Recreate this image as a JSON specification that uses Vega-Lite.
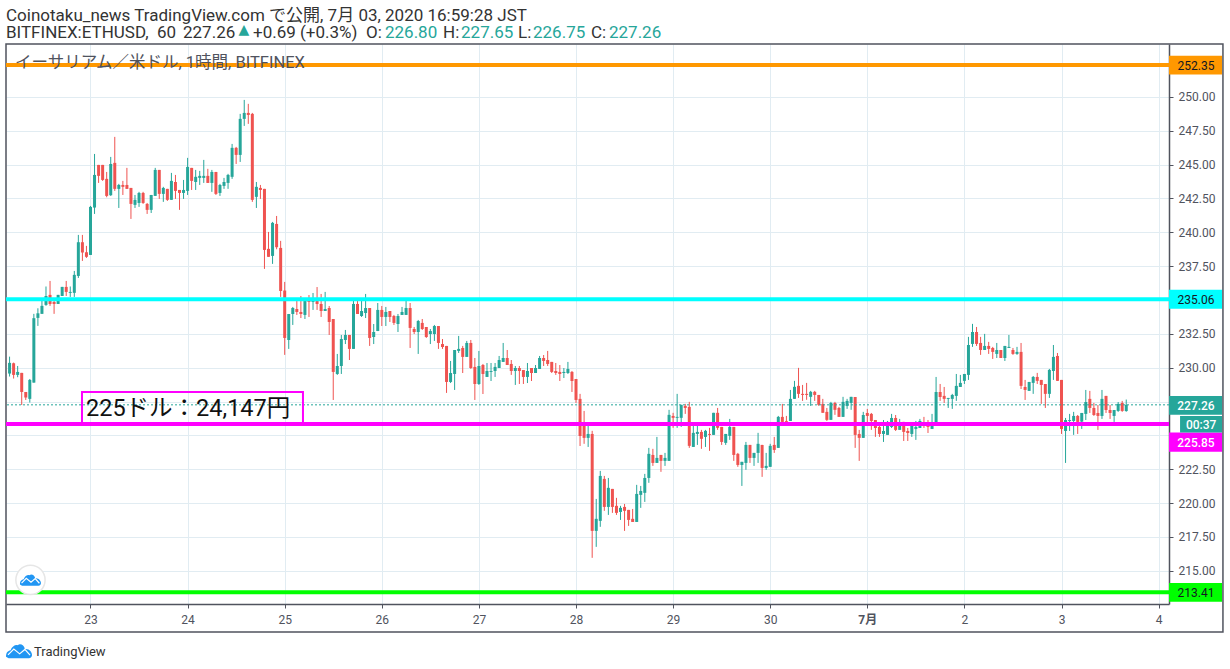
{
"$schema":"https://vega.github.io/schema/vega-lite/v6.json",
"width":1163,"height":560,
"autosize":"none",
"padding":{"left":6,"top":44,"right":61,"bottom":65},
"background":"white",
"config":{"view":{"stroke":null},"font":"Roboto, 'Noto Sans CJK JP'"},
"datasets":{
"candles":[
{"t":"2020-06-22T04:00Z","o":229.57,"h":230.82,"l":229.35,"c":230.36},
{"t":"2020-06-22T05:00Z","o":230.33,"h":230.38,"l":229.20,"c":229.47},
{"t":"2020-06-22T06:00Z","o":229.47,"h":230.13,"l":229.30,"c":229.69},
{"t":"2020-06-22T07:00Z","o":229.62,"h":229.62,"l":227.25,"c":228.21},
{"t":"2020-06-22T08:00Z","o":228.21,"h":228.21,"l":227.62,"c":227.80},
{"t":"2020-06-22T09:00Z","o":227.70,"h":229.17,"l":227.43,"c":229.10},
{"t":"2020-06-22T10:00Z","o":228.90,"h":233.98,"l":228.90,"c":233.66},
{"t":"2020-06-22T11:00Z","o":233.68,"h":234.39,"l":233.09,"c":234.02},
{"t":"2020-06-22T12:00Z","o":233.98,"h":235.13,"l":233.98,"c":234.57},
{"t":"2020-06-22T13:00Z","o":234.64,"h":236.00,"l":234.57,"c":235.30},
{"t":"2020-06-22T14:00Z","o":235.38,"h":236.41,"l":234.57,"c":234.71},
{"t":"2020-06-22T15:00Z","o":234.86,"h":235.13,"l":233.98,"c":234.71},
{"t":"2020-06-22T16:00Z","o":234.71,"h":235.38,"l":234.71,"c":235.38},
{"t":"2020-06-22T17:00Z","o":235.30,"h":235.97,"l":235.30,"c":235.97},
{"t":"2020-06-22T18:00Z","o":235.97,"h":236.41,"l":235.30,"c":235.60},
{"t":"2020-06-22T19:00Z","o":235.53,"h":236.00,"l":235.23,"c":235.60},
{"t":"2020-06-22T20:00Z","o":235.53,"h":237.15,"l":235.23,"c":236.86},
{"t":"2020-06-22T21:00Z","o":236.78,"h":239.81,"l":236.63,"c":239.27},
{"t":"2020-06-22T22:00Z","o":239.27,"h":239.81,"l":237.89,"c":238.51},
{"t":"2020-06-22T23:00Z","o":238.53,"h":239.00,"l":238.11,"c":238.19},
{"t":"2020-06-23T00:00Z","o":238.33,"h":241.95,"l":238.33,"c":241.88},
{"t":"2020-06-23T01:00Z","o":241.83,"h":245.79,"l":241.36,"c":244.24},
{"t":"2020-06-23T02:00Z","o":244.98,"h":244.98,"l":243.65,"c":244.17},
{"t":"2020-06-23T03:00Z","o":244.98,"h":244.98,"l":243.80,"c":243.87},
{"t":"2020-06-23T04:00Z","o":243.95,"h":244.46,"l":242.59,"c":242.69},
{"t":"2020-06-23T05:00Z","o":242.74,"h":245.57,"l":242.69,"c":245.05},
{"t":"2020-06-23T06:00Z","o":245.13,"h":247.05,"l":243.06,"c":243.21},
{"t":"2020-06-23T07:00Z","o":243.21,"h":243.58,"l":241.80,"c":243.50},
{"t":"2020-06-23T08:00Z","o":243.50,"h":243.80,"l":242.76,"c":243.36},
{"t":"2020-06-23T09:00Z","o":243.50,"h":244.76,"l":243.21,"c":243.21},
{"t":"2020-06-23T10:00Z","o":243.28,"h":243.28,"l":240.99,"c":242.10},
{"t":"2020-06-23T11:00Z","o":242.03,"h":242.76,"l":241.80,"c":242.40},
{"t":"2020-06-23T12:00Z","o":242.17,"h":242.99,"l":241.88,"c":242.91},
{"t":"2020-06-23T13:00Z","o":242.91,"h":242.99,"l":242.10,"c":242.17},
{"t":"2020-06-23T14:00Z","o":242.10,"h":242.17,"l":241.36,"c":241.66},
{"t":"2020-06-23T15:00Z","o":241.66,"h":242.76,"l":241.43,"c":242.76},
{"t":"2020-06-23T16:00Z","o":242.69,"h":244.76,"l":242.69,"c":244.61},
{"t":"2020-06-23T17:00Z","o":244.61,"h":244.61,"l":242.47,"c":242.84},
{"t":"2020-06-23T18:00Z","o":242.84,"h":243.36,"l":242.25,"c":243.28},
{"t":"2020-06-23T19:00Z","o":243.21,"h":243.21,"l":242.32,"c":242.40},
{"t":"2020-06-23T20:00Z","o":242.40,"h":244.39,"l":242.40,"c":243.80},
{"t":"2020-06-23T21:00Z","o":243.72,"h":244.24,"l":242.47,"c":243.06},
{"t":"2020-06-23T22:00Z","o":243.13,"h":243.13,"l":241.66,"c":242.91},
{"t":"2020-06-23T23:00Z","o":242.91,"h":243.87,"l":242.47,"c":243.13},
{"t":"2020-06-24T00:00Z","o":243.06,"h":245.50,"l":242.76,"c":244.83},
{"t":"2020-06-24T01:00Z","o":244.76,"h":244.76,"l":243.13,"c":243.80},
{"t":"2020-06-24T02:00Z","o":243.72,"h":244.61,"l":243.13,"c":244.10},
{"t":"2020-06-24T03:00Z","o":244.02,"h":244.54,"l":243.50,"c":244.17},
{"t":"2020-06-24T04:00Z","o":244.02,"h":245.35,"l":243.65,"c":244.17},
{"t":"2020-06-24T05:00Z","o":244.17,"h":244.69,"l":243.65,"c":243.65},
{"t":"2020-06-24T06:00Z","o":243.65,"h":244.61,"l":242.99,"c":244.46},
{"t":"2020-06-24T07:00Z","o":244.46,"h":244.46,"l":242.76,"c":242.84},
{"t":"2020-06-24T08:00Z","o":242.91,"h":243.58,"l":242.69,"c":243.50},
{"t":"2020-06-24T09:00Z","o":243.43,"h":244.02,"l":243.21,"c":243.72},
{"t":"2020-06-24T10:00Z","o":243.65,"h":244.32,"l":243.21,"c":244.24},
{"t":"2020-06-24T11:00Z","o":244.10,"h":246.53,"l":243.95,"c":246.24},
{"t":"2020-06-24T12:00Z","o":246.24,"h":246.31,"l":245.05,"c":245.72},
{"t":"2020-06-24T13:00Z","o":245.72,"h":248.75,"l":245.20,"c":248.38},
{"t":"2020-06-24T14:00Z","o":248.38,"h":249.78,"l":247.86,"c":248.82},
{"t":"2020-06-24T15:00Z","o":248.82,"h":249.49,"l":248.01,"c":248.67},
{"t":"2020-06-24T16:00Z","o":248.75,"h":248.82,"l":242.25,"c":242.40},
{"t":"2020-06-24T17:00Z","o":242.62,"h":243.72,"l":241.80,"c":243.36},
{"t":"2020-06-24T18:00Z","o":243.28,"h":243.50,"l":242.47,"c":243.13},
{"t":"2020-06-24T19:00Z","o":243.21,"h":243.21,"l":237.30,"c":238.70},
{"t":"2020-06-24T20:00Z","o":238.78,"h":240.03,"l":238.19,"c":238.19},
{"t":"2020-06-24T21:00Z","o":238.26,"h":240.77,"l":237.67,"c":240.70},
{"t":"2020-06-24T22:00Z","o":240.62,"h":241.21,"l":238.75,"c":238.90},
{"t":"2020-06-24T23:00Z","o":238.85,"h":239.37,"l":235.23,"c":235.67},
{"t":"2020-06-25T00:00Z","o":235.70,"h":236.34,"l":230.95,"c":232.20},
{"t":"2020-06-25T01:00Z","o":232.05,"h":233.97,"l":231.39,"c":233.97},
{"t":"2020-06-25T02:00Z","o":233.97,"h":234.49,"l":233.16,"c":234.41},
{"t":"2020-06-25T03:00Z","o":234.34,"h":235.08,"l":233.90,"c":234.12},
{"t":"2020-06-25T04:00Z","o":234.12,"h":235.30,"l":233.67,"c":233.97},
{"t":"2020-06-25T05:00Z","o":233.90,"h":235.00,"l":233.60,"c":234.93},
{"t":"2020-06-25T06:00Z","o":235.00,"h":235.37,"l":233.75,"c":234.86},
{"t":"2020-06-25T07:00Z","o":234.86,"h":235.52,"l":234.27,"c":235.00},
{"t":"2020-06-25T08:00Z","o":235.00,"h":235.96,"l":234.27,"c":234.71},
{"t":"2020-06-25T09:00Z","o":234.71,"h":235.45,"l":233.75,"c":234.19},
{"t":"2020-06-25T10:00Z","o":234.19,"h":235.60,"l":234.19,"c":234.34},
{"t":"2020-06-25T11:00Z","o":234.41,"h":234.56,"l":232.42,"c":233.38},
{"t":"2020-06-25T12:00Z","o":233.60,"h":233.60,"l":227.62,"c":229.69},
{"t":"2020-06-25T13:00Z","o":229.54,"h":231.02,"l":229.47,"c":230.13},
{"t":"2020-06-25T14:00Z","o":230.13,"h":232.42,"l":229.54,"c":232.12},
{"t":"2020-06-25T15:00Z","o":232.05,"h":232.79,"l":231.75,"c":232.42},
{"t":"2020-06-25T16:00Z","o":232.42,"h":232.42,"l":230.57,"c":231.39},
{"t":"2020-06-25T17:00Z","o":231.39,"h":235.15,"l":231.39,"c":234.71},
{"t":"2020-06-25T18:00Z","o":234.71,"h":235.00,"l":233.97,"c":233.97},
{"t":"2020-06-25T19:00Z","o":233.82,"h":235.00,"l":233.75,"c":234.19},
{"t":"2020-06-25T20:00Z","o":234.04,"h":235.45,"l":233.67,"c":234.41},
{"t":"2020-06-25T21:00Z","o":234.41,"h":234.41,"l":231.61,"c":232.20},
{"t":"2020-06-25T22:00Z","o":232.27,"h":233.23,"l":231.75,"c":232.64},
{"t":"2020-06-25T23:00Z","o":232.71,"h":234.78,"l":232.71,"c":234.27},
{"t":"2020-06-26T00:00Z","o":234.27,"h":234.56,"l":233.08,"c":233.75},
{"t":"2020-06-26T01:00Z","o":233.75,"h":234.49,"l":233.08,"c":234.12},
{"t":"2020-06-26T02:00Z","o":234.19,"h":234.19,"l":233.38,"c":233.75},
{"t":"2020-06-26T03:00Z","o":233.82,"h":233.90,"l":233.16,"c":233.31},
{"t":"2020-06-26T04:00Z","o":233.23,"h":233.97,"l":232.64,"c":233.82},
{"t":"2020-06-26T05:00Z","o":233.90,"h":234.49,"l":233.90,"c":234.12},
{"t":"2020-06-26T06:00Z","o":233.90,"h":235.08,"l":233.90,"c":234.41},
{"t":"2020-06-26T07:00Z","o":234.41,"h":234.78,"l":231.46,"c":232.94},
{"t":"2020-06-26T08:00Z","o":232.86,"h":233.01,"l":232.49,"c":232.64},
{"t":"2020-06-26T09:00Z","o":232.64,"h":233.53,"l":231.02,"c":233.45},
{"t":"2020-06-26T10:00Z","o":233.31,"h":233.60,"l":232.79,"c":232.86},
{"t":"2020-06-26T11:00Z","o":233.01,"h":233.01,"l":232.20,"c":232.27},
{"t":"2020-06-26T12:00Z","o":232.49,"h":232.86,"l":231.75,"c":232.71},
{"t":"2020-06-26T13:00Z","o":232.49,"h":233.16,"l":231.98,"c":233.08},
{"t":"2020-06-26T14:00Z","o":233.08,"h":233.08,"l":231.39,"c":231.83},
{"t":"2020-06-26T15:00Z","o":231.75,"h":232.12,"l":231.39,"c":231.53},
{"t":"2020-06-26T16:00Z","o":231.61,"h":231.61,"l":228.14,"c":228.95},
{"t":"2020-06-26T17:00Z","o":228.95,"h":230.50,"l":228.87,"c":229.61},
{"t":"2020-06-26T18:00Z","o":229.54,"h":231.31,"l":228.36,"c":231.31},
{"t":"2020-06-26T19:00Z","o":231.24,"h":232.35,"l":231.09,"c":231.39},
{"t":"2020-06-26T20:00Z","o":231.46,"h":231.61,"l":229.61,"c":230.80},
{"t":"2020-06-26T21:00Z","o":230.80,"h":231.98,"l":230.80,"c":231.83},
{"t":"2020-06-26T22:00Z","o":231.83,"h":232.05,"l":229.91,"c":229.98},
{"t":"2020-06-26T23:00Z","o":230.06,"h":230.72,"l":227.62,"c":228.80},
{"t":"2020-06-27T00:00Z","o":228.80,"h":231.24,"l":228.73,"c":230.13},
{"t":"2020-06-27T01:00Z","o":230.20,"h":230.28,"l":228.06,"c":229.54},
{"t":"2020-06-27T02:00Z","o":229.32,"h":230.35,"l":229.32,"c":229.76},
{"t":"2020-06-27T03:00Z","o":229.69,"h":230.35,"l":229.02,"c":229.76},
{"t":"2020-06-27T04:00Z","o":229.76,"h":230.35,"l":229.32,"c":230.06},
{"t":"2020-06-27T05:00Z","o":229.98,"h":230.87,"l":229.98,"c":230.57},
{"t":"2020-06-27T06:00Z","o":230.43,"h":231.83,"l":230.43,"c":230.72},
{"t":"2020-06-27T07:00Z","o":230.72,"h":231.31,"l":230.20,"c":230.20},
{"t":"2020-06-27T08:00Z","o":230.28,"h":230.57,"l":229.47,"c":229.76},
{"t":"2020-06-27T09:00Z","o":229.76,"h":230.13,"l":228.73,"c":229.98},
{"t":"2020-06-27T10:00Z","o":229.98,"h":230.13,"l":228.80,"c":229.76},
{"t":"2020-06-27T11:00Z","o":229.83,"h":229.83,"l":228.80,"c":229.32},
{"t":"2020-06-27T12:00Z","o":229.32,"h":230.35,"l":228.87,"c":229.76},
{"t":"2020-06-27T13:00Z","o":229.98,"h":229.98,"l":229.02,"c":229.61},
{"t":"2020-06-27T14:00Z","o":229.61,"h":230.20,"l":229.61,"c":229.98},
{"t":"2020-06-27T15:00Z","o":229.91,"h":230.87,"l":229.91,"c":230.72},
{"t":"2020-06-27T16:00Z","o":230.72,"h":230.94,"l":230.13,"c":230.50},
{"t":"2020-06-27T17:00Z","o":230.57,"h":231.24,"l":230.13,"c":230.28},
{"t":"2020-06-27T18:00Z","o":230.43,"h":230.43,"l":229.61,"c":229.69},
{"t":"2020-06-27T19:00Z","o":229.76,"h":230.35,"l":229.47,"c":229.61},
{"t":"2020-06-27T20:00Z","o":229.69,"h":230.20,"l":229.02,"c":229.54},
{"t":"2020-06-27T21:00Z","o":229.61,"h":229.98,"l":229.24,"c":229.69},
{"t":"2020-06-27T22:00Z","o":229.61,"h":230.43,"l":229.54,"c":229.91},
{"t":"2020-06-27T23:00Z","o":229.69,"h":229.76,"l":228.21,"c":229.02},
{"t":"2020-06-28T00:00Z","o":229.17,"h":229.17,"l":227.40,"c":227.62},
{"t":"2020-06-28T01:00Z","o":227.70,"h":228.07,"l":224.22,"c":224.96},
{"t":"2020-06-28T02:00Z","o":225.80,"h":226.81,"l":224.38,"c":224.82},
{"t":"2020-06-28T03:00Z","o":224.82,"h":225.78,"l":224.15,"c":225.11},
{"t":"2020-06-28T04:00Z","o":225.11,"h":225.34,"l":215.96,"c":217.95},
{"t":"2020-06-28T05:00Z","o":217.95,"h":220.31,"l":216.77,"c":218.84},
{"t":"2020-06-28T06:00Z","o":218.69,"h":222.38,"l":218.25,"c":222.01},
{"t":"2020-06-28T07:00Z","o":221.79,"h":222.01,"l":219.43,"c":219.72},
{"t":"2020-06-28T08:00Z","o":219.72,"h":221.86,"l":219.13,"c":221.13},
{"t":"2020-06-28T09:00Z","o":221.05,"h":221.05,"l":219.28,"c":219.72},
{"t":"2020-06-28T10:00Z","o":219.80,"h":220.39,"l":219.13,"c":219.28},
{"t":"2020-06-28T11:00Z","o":219.35,"h":219.80,"l":218.76,"c":219.65},
{"t":"2020-06-28T12:00Z","o":219.72,"h":219.94,"l":217.95,"c":219.43},
{"t":"2020-06-28T13:00Z","o":219.50,"h":219.50,"l":218.32,"c":218.76},
{"t":"2020-06-28T14:00Z","o":218.84,"h":219.57,"l":218.61,"c":218.61},
{"t":"2020-06-28T15:00Z","o":218.61,"h":221.35,"l":218.61,"c":220.68},
{"t":"2020-06-28T16:00Z","o":220.61,"h":221.27,"l":219.65,"c":220.90},
{"t":"2020-06-28T17:00Z","o":220.76,"h":222.16,"l":220.09,"c":221.86},
{"t":"2020-06-28T18:00Z","o":221.86,"h":224.08,"l":221.50,"c":223.64},
{"t":"2020-06-28T19:00Z","o":223.56,"h":224.01,"l":222.75,"c":222.97},
{"t":"2020-06-28T20:00Z","o":222.97,"h":224.89,"l":222.97,"c":223.34},
{"t":"2020-06-28T21:00Z","o":223.56,"h":223.56,"l":222.31,"c":223.12},
{"t":"2020-06-28T22:00Z","o":223.12,"h":223.71,"l":222.75,"c":223.34},
{"t":"2020-06-28T23:00Z","o":223.12,"h":226.89,"l":223.12,"c":226.52},
{"t":"2020-06-29T00:00Z","o":226.44,"h":226.67,"l":225.56,"c":226.30},
{"t":"2020-06-29T01:00Z","o":226.30,"h":228.07,"l":225.56,"c":226.37},
{"t":"2020-06-29T02:00Z","o":226.30,"h":227.26,"l":225.63,"c":227.26},
{"t":"2020-06-29T03:00Z","o":227.18,"h":227.33,"l":226.59,"c":227.03},
{"t":"2020-06-29T04:00Z","o":227.11,"h":227.48,"l":224.08,"c":224.23},
{"t":"2020-06-29T05:00Z","o":224.15,"h":225.78,"l":224.15,"c":225.19},
{"t":"2020-06-29T06:00Z","o":225.11,"h":225.78,"l":224.30,"c":225.26},
{"t":"2020-06-29T07:00Z","o":225.26,"h":225.41,"l":224.01,"c":224.75},
{"t":"2020-06-29T08:00Z","o":224.89,"h":225.41,"l":224.15,"c":225.34},
{"t":"2020-06-29T09:00Z","o":225.11,"h":225.56,"l":223.86,"c":225.04},
{"t":"2020-06-29T10:00Z","o":225.04,"h":226.67,"l":225.04,"c":226.67},
{"t":"2020-06-29T11:00Z","o":226.67,"h":227.03,"l":225.41,"c":225.56},
{"t":"2020-06-29T12:00Z","o":225.63,"h":225.63,"l":224.30,"c":224.52},
{"t":"2020-06-29T13:00Z","o":224.45,"h":225.11,"l":224.30,"c":225.11},
{"t":"2020-06-29T14:00Z","o":224.97,"h":226.22,"l":224.67,"c":225.63},
{"t":"2020-06-29T15:00Z","o":225.63,"h":225.63,"l":223.12,"c":223.56},
{"t":"2020-06-29T16:00Z","o":223.64,"h":223.71,"l":222.68,"c":222.82},
{"t":"2020-06-29T17:00Z","o":222.82,"h":223.05,"l":221.27,"c":223.05},
{"t":"2020-06-29T18:00Z","o":222.97,"h":224.52,"l":222.46,"c":224.30},
{"t":"2020-06-29T19:00Z","o":224.30,"h":224.30,"l":222.97,"c":223.34},
{"t":"2020-06-29T20:00Z","o":223.34,"h":223.71,"l":222.75,"c":223.71},
{"t":"2020-06-29T21:00Z","o":223.71,"h":225.19,"l":222.97,"c":224.38},
{"t":"2020-06-29T22:00Z","o":224.30,"h":224.30,"l":221.94,"c":222.60},
{"t":"2020-06-29T23:00Z","o":222.60,"h":223.71,"l":222.46,"c":222.75},
{"t":"2020-06-30T00:00Z","o":222.68,"h":224.38,"l":222.68,"c":224.23},
{"t":"2020-06-30T01:00Z","o":224.30,"h":224.89,"l":223.71,"c":223.93},
{"t":"2020-06-30T02:00Z","o":224.08,"h":226.44,"l":224.08,"c":226.37},
{"t":"2020-06-30T03:00Z","o":226.37,"h":227.33,"l":226.00,"c":226.00},
{"t":"2020-06-30T04:00Z","o":226.07,"h":226.44,"l":226.00,"c":226.00},
{"t":"2020-06-30T05:00Z","o":226.07,"h":228.36,"l":226.07,"c":227.70},
{"t":"2020-06-30T06:00Z","o":227.70,"h":229.03,"l":227.70,"c":228.59},
{"t":"2020-06-30T07:00Z","o":228.66,"h":229.99,"l":227.77,"c":228.07},
{"t":"2020-06-30T08:00Z","o":228.07,"h":228.73,"l":227.55,"c":227.99},
{"t":"2020-06-30T09:00Z","o":228.07,"h":228.88,"l":227.63,"c":227.99},
{"t":"2020-06-30T10:00Z","o":227.85,"h":228.29,"l":227.18,"c":228.22},
{"t":"2020-06-30T11:00Z","o":228.22,"h":228.29,"l":227.55,"c":227.99},
{"t":"2020-06-30T12:00Z","o":227.99,"h":227.99,"l":227.18,"c":227.26},
{"t":"2020-06-30T13:00Z","o":227.33,"h":227.70,"l":226.67,"c":226.67},
{"t":"2020-06-30T14:00Z","o":226.74,"h":227.03,"l":226.07,"c":226.15},
{"t":"2020-06-30T15:00Z","o":226.15,"h":227.48,"l":226.15,"c":227.40},
{"t":"2020-06-30T16:00Z","o":227.40,"h":227.48,"l":226.52,"c":226.89},
{"t":"2020-06-30T17:00Z","o":227.03,"h":227.11,"l":226.37,"c":226.37},
{"t":"2020-06-30T18:00Z","o":226.37,"h":227.85,"l":226.37,"c":227.48},
{"t":"2020-06-30T19:00Z","o":227.18,"h":227.70,"l":226.96,"c":227.55},
{"t":"2020-06-30T20:00Z","o":227.40,"h":227.85,"l":226.89,"c":227.85},
{"t":"2020-06-30T21:00Z","o":227.84,"h":227.84,"l":224.08,"c":225.04},
{"t":"2020-06-30T22:00Z","o":225.11,"h":225.41,"l":223.12,"c":224.82},
{"t":"2020-06-30T23:00Z","o":224.82,"h":226.74,"l":224.82,"c":226.51},
{"t":"2020-07-01T00:00Z","o":226.66,"h":226.96,"l":225.92,"c":226.44},
{"t":"2020-07-01T01:00Z","o":226.59,"h":226.66,"l":225.41,"c":226.07},
{"t":"2020-07-01T02:00Z","o":226.14,"h":226.14,"l":224.89,"c":225.55},
{"t":"2020-07-01T03:00Z","o":225.63,"h":225.70,"l":224.89,"c":225.11},
{"t":"2020-07-01T04:00Z","o":225.11,"h":226.14,"l":224.52,"c":225.33},
{"t":"2020-07-01T05:00Z","o":225.04,"h":226.07,"l":225.04,"c":226.00},
{"t":"2020-07-01T06:00Z","o":225.63,"h":226.59,"l":225.55,"c":226.29},
{"t":"2020-07-01T07:00Z","o":226.29,"h":226.51,"l":225.33,"c":225.41},
{"t":"2020-07-01T08:00Z","o":225.41,"h":226.22,"l":225.41,"c":225.70},
{"t":"2020-07-01T09:00Z","o":226.00,"h":226.00,"l":224.59,"c":225.26},
{"t":"2020-07-01T10:00Z","o":225.33,"h":225.55,"l":224.59,"c":225.18},
{"t":"2020-07-01T11:00Z","o":225.11,"h":225.85,"l":224.89,"c":225.70},
{"t":"2020-07-01T12:00Z","o":225.48,"h":226.07,"l":224.67,"c":225.63},
{"t":"2020-07-01T13:00Z","o":225.55,"h":226.22,"l":225.55,"c":226.07},
{"t":"2020-07-01T14:00Z","o":225.85,"h":226.37,"l":225.55,"c":225.70},
{"t":"2020-07-01T15:00Z","o":225.78,"h":226.14,"l":225.18,"c":225.63},
{"t":"2020-07-01T16:00Z","o":225.48,"h":226.59,"l":225.48,"c":225.70},
{"t":"2020-07-01T17:00Z","o":225.70,"h":229.32,"l":225.70,"c":228.21},
{"t":"2020-07-01T18:00Z","o":228.21,"h":228.80,"l":227.55,"c":227.84},
{"t":"2020-07-01T19:00Z","o":227.92,"h":228.58,"l":227.40,"c":227.70},
{"t":"2020-07-01T20:00Z","o":227.70,"h":227.77,"l":227.03,"c":227.77},
{"t":"2020-07-01T21:00Z","o":227.70,"h":228.07,"l":226.96,"c":227.99},
{"t":"2020-07-01T22:00Z","o":227.92,"h":229.54,"l":227.55,"c":228.66},
{"t":"2020-07-01T23:00Z","o":228.58,"h":229.47,"l":228.58,"c":228.88},
{"t":"2020-07-02T00:00Z","o":229.03,"h":229.54,"l":228.80,"c":229.54},
{"t":"2020-07-02T01:00Z","o":229.47,"h":232.28,"l":229.10,"c":231.68},
{"t":"2020-07-02T02:00Z","o":231.76,"h":233.24,"l":231.54,"c":232.64},
{"t":"2020-07-02T03:00Z","o":232.64,"h":233.01,"l":231.61,"c":231.76},
{"t":"2020-07-02T04:00Z","o":231.83,"h":232.28,"l":230.95,"c":231.31},
{"t":"2020-07-02T05:00Z","o":231.31,"h":232.50,"l":231.31,"c":231.61},
{"t":"2020-07-02T06:00Z","o":231.61,"h":231.91,"l":231.02,"c":231.39},
{"t":"2020-07-02T07:00Z","o":231.46,"h":231.54,"l":230.65,"c":231.17},
{"t":"2020-07-02T08:00Z","o":231.02,"h":231.83,"l":230.72,"c":231.31},
{"t":"2020-07-02T09:00Z","o":231.31,"h":231.31,"l":230.72,"c":230.72},
{"t":"2020-07-02T10:00Z","o":230.72,"h":231.61,"l":230.50,"c":231.61},
{"t":"2020-07-02T11:00Z","o":231.46,"h":232.42,"l":231.46,"c":231.54},
{"t":"2020-07-02T12:00Z","o":231.31,"h":231.46,"l":230.95,"c":231.02},
{"t":"2020-07-02T13:00Z","o":231.02,"h":231.54,"l":230.95,"c":231.17},
{"t":"2020-07-02T14:00Z","o":231.17,"h":231.83,"l":228.43,"c":228.66},
{"t":"2020-07-02T15:00Z","o":228.58,"h":229.10,"l":227.62,"c":228.36},
{"t":"2020-07-02T16:00Z","o":228.29,"h":228.95,"l":228.29,"c":228.95},
{"t":"2020-07-02T17:00Z","o":228.88,"h":229.39,"l":228.07,"c":229.32},
{"t":"2020-07-02T18:00Z","o":229.32,"h":229.62,"l":228.80,"c":229.03},
{"t":"2020-07-02T19:00Z","o":229.10,"h":229.10,"l":227.33,"c":228.73},
{"t":"2020-07-02T20:00Z","o":228.80,"h":228.80,"l":227.03,"c":228.07},
{"t":"2020-07-02T21:00Z","o":228.07,"h":229.91,"l":227.77,"c":229.84},
{"t":"2020-07-02T22:00Z","o":229.76,"h":231.68,"l":229.10,"c":230.80},
{"t":"2020-07-02T23:00Z","o":230.87,"h":231.09,"l":229.03,"c":229.03},
{"t":"2020-07-03T00:00Z","o":229.10,"h":229.10,"l":225.11,"c":225.48},
{"t":"2020-07-03T01:00Z","o":225.33,"h":226.29,"l":222.97,"c":226.14},
{"t":"2020-07-03T02:00Z","o":226.07,"h":226.59,"l":225.33,"c":226.14},
{"t":"2020-07-03T03:00Z","o":226.07,"h":226.74,"l":225.04,"c":226.44},
{"t":"2020-07-03T04:00Z","o":226.44,"h":226.51,"l":225.11,"c":226.00},
{"t":"2020-07-03T05:00Z","o":226.02,"h":226.66,"l":225.48,"c":226.66},
{"t":"2020-07-03T06:00Z","o":226.59,"h":228.36,"l":226.14,"c":227.47},
{"t":"2020-07-03T07:00Z","o":227.70,"h":228.29,"l":226.66,"c":227.03},
{"t":"2020-07-03T08:00Z","o":227.03,"h":227.40,"l":226.44,"c":226.51},
{"t":"2020-07-03T09:00Z","o":226.66,"h":227.25,"l":225.41,"c":226.44},
{"t":"2020-07-03T10:00Z","o":226.44,"h":228.36,"l":226.22,"c":227.70},
{"t":"2020-07-03T11:00Z","o":227.92,"h":227.92,"l":226.66,"c":226.88},
{"t":"2020-07-03T12:00Z","o":226.88,"h":227.25,"l":226.22,"c":226.66},
{"t":"2020-07-03T13:00Z","o":226.44,"h":226.88,"l":226.00,"c":226.88},
{"t":"2020-07-03T14:00Z","o":226.81,"h":227.47,"l":226.74,"c":227.33},
{"t":"2020-07-03T15:00Z","o":227.40,"h":227.55,"l":226.74,"c":226.81},
{"t":"2020-07-03T16:00Z","o":226.80,"h":227.65,"l":226.75,"c":227.26}
],
"levels":[
{"p":252.35,"level":"orange","lo":251.65,"hi":253.05,"t1":"2020-07-04T02:34Z","t2":"2020-07-04T15:40Z"},
{"p":235.06,"level":"cyan","lo":234.36,"hi":235.76,"t1":"2020-07-04T02:34Z","t2":"2020-07-04T15:40Z"},
{"p":225.85,"level":"magenta","lo":223.80,"hi":225.21,"t1":"2020-07-04T02:34Z","t2":"2020-07-04T15:40Z"},
{"p":213.41,"level":"green","lo":212.71,"hi":214.11,"t1":"2020-07-04T02:34Z","t2":"2020-07-04T15:40Z"}
]
},
"layer":[
{"data":{"name":"candles"},
 "mark":{"type":"rule","strokeWidth":1},
 "encoding":{
  "x":{"field":"t","type":"temporal","title":null,
   "scale":{"type":"utc","padding":0,"domain":["2020-06-22T03:07:00Z","2020-07-04T02:34:00Z"]},
   "axis":{"tickCount":{"interval":"day","step":1},"labelExpr":"utcdate(datum.value)==1 ? '7月' : utcdate(datum.value)",
    "labelFontWeight":{"condition":{"test":"utcdate(datum.value)==1","value":"bold"},"value":"normal"},
    "labelColor":"#50535e","labelFontSize":12,"labelFont":"Roboto, 'Noto Sans CJK JP'","labelPadding":6,"tickColor":"#50535e","tickSize":4,"domainColor":"#50535e","domainWidth":1.5,"gridColor":"#e1ecf2","gridWidth":1,"grid":true,"labelFlush":false}},
  "y":{"field":"l","type":"quantitative","title":null,
   "scale":{"domain":[212.55,253.91],"zero":false,"nice":false},
   "axis":{"orient":"right","tickCount":40,"values":[215,217.5,220,222.5,225,227.5,230,232.5,235,237.5,240,242.5,245,247.5,250],"labelExpr":"indexof([225,227.5,235],datum.value)>=0 ? '' : format(datum.value,'.2f')","labelOverlap":false,"labelColor":"#50535e","labelFontSize":12,"labelPadding":5,"tickColor":"#50535e","tickSize":4,"domainColor":"#50535e","domainWidth":1.5,"gridColor":"#e1ecf2","gridWidth":1,"grid":true}},
  "y2":{"field":"h"},
  "color":{"condition":{"test":"datum.c>=datum.o","value":"#26a69a"},"value":"#ef5350"}}},
{"data":{"name":"candles"},
 "mark":{"type":"bar","size":3},
 "encoding":{
  "x":{"field":"t","type":"temporal"},
  "y":{"field":"o","type":"quantitative"},
  "y2":{"field":"c"},
  "color":{"condition":{"test":"datum.c>=datum.o","value":"#26a69a"},"value":"#ef5350"}}},
{"data":{"values":[{"t1":"2020-06-22T03:07Z","t2":"2020-07-04T15:54Z","p1":253.91,"p2":210.49}]},
 "mark":{"type":"rect","filled":false,"stroke":"#50535e","strokeWidth":1.5,"clip":false},
 "encoding":{"x":{"field":"t1","type":"temporal"},"x2":{"field":"t2"},"y":{"field":"p1","type":"quantitative"},"y2":{"field":"p2"}}},
{"data":{"values":[{"p":227.26}]},
 "mark":{"type":"rule","stroke":"#26a69a","strokeWidth":1,"strokeDash":[2,2]},
 "encoding":{"y":{"field":"p","type":"quantitative"}}},
{"data":{"name":"levels"},
 "mark":{"type":"rule","strokeWidth":4},
 "encoding":{"y":{"field":"p","type":"quantitative"},
  "color":{"field":"level","type":"nominal","legend":null,"scale":{"domain":["orange","cyan","magenta","green"],"range":["#ff9800","#00ffff","#ff00ff","#00ff00"]}}}},
{"data":{"name":"levels"},
 "mark":{"type":"rect","clip":false},
 "encoding":{"x":{"field":"t1","type":"temporal"},"x2":{"field":"t2"},"y":{"field":"lo","type":"quantitative"},"y2":{"field":"hi"},
  "color":{"field":"level","type":"nominal","legend":null}}},
{"data":{"values":[
  {"t1":"2020-07-04T02:34Z","t2":"2020-07-04T15:40Z","lo":226.52,"hi":227.92},
  {"t1":"2020-07-04T05:18Z","t2":"2020-07-04T15:40Z","lo":225.21,"hi":226.44}]},
 "mark":{"type":"rect","fill":"#26a69a","clip":false},
 "encoding":{"x":{"field":"t1","type":"temporal"},"x2":{"field":"t2"},"y":{"field":"lo","type":"quantitative"},"y2":{"field":"hi"}}},
{"data":{"values":[
  {"t":"2020-07-04T09:14Z","p":251.98,"lab":"252.35"},
  {"t":"2020-07-04T09:14Z","p":234.69,"lab":"235.06"},
  {"t":"2020-07-04T09:14Z","p":213.04,"lab":"213.41"}]},
 "mark":{"type":"text","color":"#131722","fontSize":12,"align":"center","baseline":"alphabetic","clip":false},
 "encoding":{"x":{"field":"t","type":"temporal"},"y":{"field":"p","type":"quantitative"},"text":{"field":"lab"}}},
{"data":{"values":[
  {"t":"2020-07-04T09:14Z","p":226.85,"lab":"227.26"},
  {"t":"2020-07-04T10:30Z","p":225.5,"lab":"00:37"},
  {"t":"2020-07-04T09:14Z","p":224.12,"lab":"225.85"}]},
 "mark":{"type":"text","color":"white","fontSize":12,"fontWeight":500,"align":"center","baseline":"alphabetic","clip":false},
 "encoding":{"x":{"field":"t","type":"temporal"},"y":{"field":"p","type":"quantitative"},"text":{"field":"lab"}}},
{"data":{"values":[{"t":"2020-06-22T05:20Z","p":252.14,"lab":"イーサリアム／米ドル, 1時間, BITFINEX"}]},
 "mark":{"type":"text","color":"#50535e","fontSize":16.5,"align":"left","baseline":"alphabetic"},
 "encoding":{"x":{"field":"t","type":"temporal"},"y":{"field":"p","type":"quantitative"},"text":{"field":"lab"}}},
{"data":{"values":[{"t1":"2020-06-22T21:54Z","t2":"2020-06-25T04:31Z","p1":228.21,"p2":225.85}]},
 "mark":{"type":"rect","filled":false,"stroke":"#ff00ff","strokeWidth":2},
 "encoding":{"x":{"field":"t1","type":"temporal"},"x2":{"field":"t2"},"y":{"field":"p1","type":"quantitative"},"y2":{"field":"p2"}}},
{"data":{"values":[{"t":"2020-06-22T22:53Z","p":226.44,"lab":"225ドル：24,147円"}]},
 "mark":{"type":"text","color":"#111111","fontSize":23.5,"align":"left","baseline":"alphabetic"},
 "encoding":{"x":{"field":"t","type":"temporal"},"y":{"field":"p","type":"quantitative"},"text":{"field":"lab"}}},
{"data":{"values":[{"t":"2020-06-22T03:07Z","p":255.61,"lab":"Coinotaku_news TradingView.com で公開, 7月 03, 2020 16:59:28 JST"},
  {"t":"2020-06-22T03:07Z","p":254.36,"lab":"BITFINEX:ETHUSD,"},
  {"t":"2020-06-23T16:26Z","p":254.36,"lab":"60"},
  {"t":"2020-06-23T22:52Z","p":254.36,"lab":"227.26"},
  {"t":"2020-06-24T16:10Z","p":254.36,"lab":"+0.69 (+0.3%)"},
  {"t":"2020-06-25T20:05Z","p":254.36,"lab":"O:"},
  {"t":"2020-06-26T15:08Z","p":254.36,"lab":"H:"},
  {"t":"2020-06-27T09:40Z","p":254.36,"lab":"L:"},
  {"t":"2020-06-28T03:42Z","p":254.36,"lab":"C:"}]},
 "mark":{"type":"text","color":"#333333","fontSize":17,"align":"left","baseline":"alphabetic","clip":false},
 "encoding":{"x":{"field":"t","type":"temporal"},"y":{"field":"p","type":"quantitative"},"text":{"field":"lab"}}},
{"data":{"values":[
  {"t":"2020-06-26T00:47Z","p":254.36,"lab":"226.80"},
  {"t":"2020-06-26T19:35Z","p":254.36,"lab":"227.65"},
  {"t":"2020-06-27T13:22Z","p":254.36,"lab":"226.75"},
  {"t":"2020-06-28T08:09Z","p":254.36,"lab":"227.26"}]},
 "mark":{"type":"text","color":"#26a69a","fontSize":17,"align":"left","baseline":"alphabetic","clip":false},
 "encoding":{"x":{"field":"t","type":"temporal"},"y":{"field":"p","type":"quantitative"},"text":{"field":"lab"}}},
{"data":{"values":[{"t":"2020-06-24T13:56Z","p":254.65,"lab":"▲"}]},
 "mark":{"type":"text","color":"#26a69a","fontSize":14,"align":"center","baseline":"alphabetic","clip":false,"font":"DejaVu Sans"},
 "encoding":{"x":{"field":"t","type":"temporal"},"y":{"field":"p","type":"quantitative"},"text":{"field":"lab"}}},
{"data":{"values":[{"t":"2020-06-22T09:10Z","p":214.33}]},
 "mark":{"type":"point","filled":true,"shape":"circle","size":855,"fill":"white","stroke":"#e6e6e6","strokeWidth":1.5,"opacity":1},
 "encoding":{"x":{"field":"t","type":"temporal"},"y":{"field":"p","type":"quantitative"}}},
{"data":{"values":[{"t":"2020-06-22T09:10Z","p":214.33,"s":"logo"},{"t":"2020-06-22T06:20Z","p":209.08,"s":"foot"}]},
 "mark":{"type":"point","filled":true,"fill":"#2196f3","opacity":1,"strokeWidth":0,"clip":false,
  "shape":"M-1,0.45 C-1,0.1 -0.85,0 -0.65,-0.05 C-0.55,-0.35 -0.3,-0.5 -0.1,-0.45 C0.1,-0.6 0.4,-0.45 0.45,-0.15 C0.8,-0.2 1,0.1 1,0.3 C1,0.45 0.9,0.55 0.75,0.55 L-0.8,0.55 Z"},
 "encoding":{"x":{"field":"t","type":"temporal"},"y":{"field":"p","type":"quantitative"},
  "size":{"field":"s","type":"nominal","legend":null,"scale":{"domain":["logo","foot"],"range":[441,676]}}}},
{"data":{"values":[{"t":"2020-06-22T09:10Z","p":214.33,"s":"logo"},{"t":"2020-06-22T06:20Z","p":209.08,"s":"foot"}]},
 "mark":{"type":"point","filled":false,"stroke":"white","strokeWidth":1.2,"opacity":1,"clip":false,
  "shape":"M-0.85,0.3 L-0.4,-0.15 L0.05,0.22 L0.45,-0.12 L0.85,0.32"},
 "encoding":{"x":{"field":"t","type":"temporal"},"y":{"field":"p","type":"quantitative"},
  "size":{"field":"s","type":"nominal","legend":null}}},
{"data":{"values":[{"t":"2020-06-22T10:02Z","p":208.72,"lab":"TradingView"}]},
 "mark":{"type":"text","color":"#333333","fontSize":13,"align":"left","baseline":"alphabetic","clip":false},
 "encoding":{"x":{"field":"t","type":"temporal"},"y":{"field":"p","type":"quantitative"},"text":{"field":"lab"}}}
]
}
